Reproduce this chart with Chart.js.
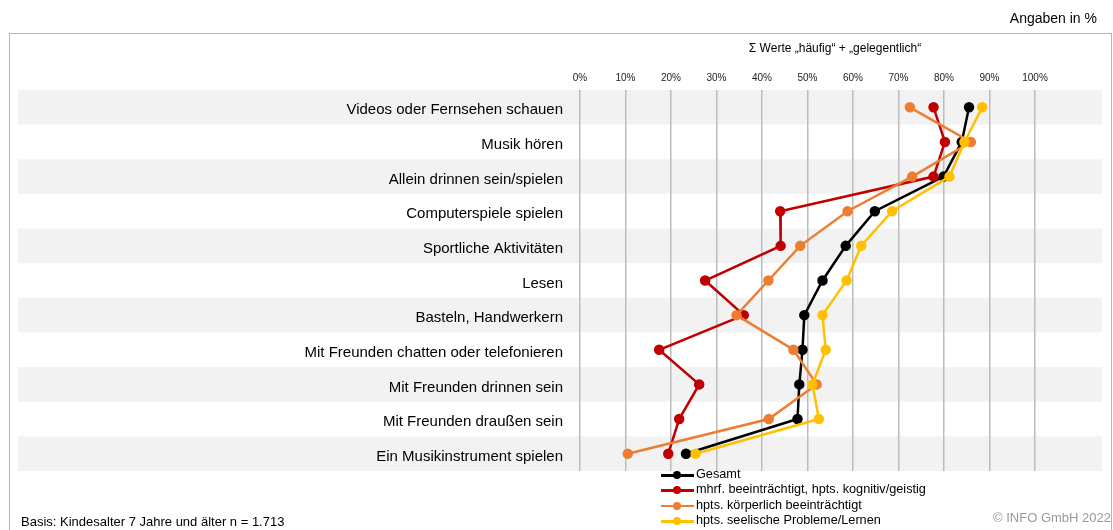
<!DOCTYPE html>
<html lang="de">
<head>
<meta charset="utf-8">
<script src="https://cdn.jsdelivr.net/npm/chart.js@4/dist/chart.umd.min.js"></script>
<style>
    html, body { margin: 0; padding: 0; background: #fff; }
    body { font-family: Arial, "Liberation Sans", sans-serif; color: #000; }
    #wrap { position: relative; width: 1113px; height: 530px; overflow: hidden; }
    #frame { position: absolute; left: 9px; top: 33px; width: 1101px; height: 520px; border: 1.5px solid #b4b4b4; border-bottom: none; }
    #chartBox { position: absolute; left: 0; top: 0; width: 1113px; height: 530px; }
    .txt { position: absolute; white-space: nowrap; }
    #unit { right: 16px; top: 10px; font-size: 14px; }
    #subtitle { left: 835px; top: 41px; transform: translateX(-50%); font-size: 12px; }
    #basis { left: 21px; top: 514px; font-size: 13px; }
    #copy { right: 2px; top: 510px; font-size: 13px; color: #9a9a9a; }
    #legend { position: absolute; left: 661px; top: 467px; font-size: 12.7px; line-height: 15.3px; }
    #legend .item { display: flex; align-items: center; }
    #legend .sym { position: relative; width: 33px; height: 15px; margin-right: 2px; }
    #legend .sym i { position: absolute; left: 0; right: 0; top: 7px; height: 2.5px; }
    #legend .sym b { position: absolute; left: 12px; top: 4px; width: 8px; height: 8px; border-radius: 50%; }
</style>
</head>
<body>
<div id="wrap">
    <div id="frame"></div>
    <div id="chartBox"><canvas id="activityChart" width="1113" height="530"></canvas></div>
    <div class="txt" id="unit">Angaben in %</div>
    <div class="txt" id="subtitle">Σ Werte „häufig“ + „gelegentlich“</div>
    <div id="legend"></div>
    <div class="txt" id="basis">Basis: Kindesalter 7 Jahre und älter n = 1.713</div>
    <div class="txt" id="copy">© INFO GmbH 2022</div>
</div>
<script>
const activities = [
    "Videos oder Fernsehen schauen",
    "Musik hören",
    "Allein drinnen sein/spielen",
    "Computerspiele spielen",
    "Sportliche Aktivitäten",
    "Lesen",
    "Basteln, Handwerkern",
    "Mit Freunden chatten oder telefonieren",
    "Mit Freunden drinnen sein",
    "Mit Freunden draußen sein",
    "Ein Musikinstrument spielen"
];

const seriesNames = [
    "Gesamt",
    "mhrf. beeinträchtigt, hpts. kognitiv/geistig",
    "hpts. körperlich beeinträchtigt",
    "hpts. seelische Probleme/Lernen"
];

const gesamt      = [85.5, 83.9, 79.9, 64.8, 58.4, 53.3, 49.3, 48.9, 48.2, 47.8, 23.3];
const kognitiv    = [77.7, 80.2, 77.7, 44.0, 44.1, 27.5, 36.0, 17.4, 26.2, 21.8, 19.4];
const koerperlich = [72.5, 85.9, 73.0, 58.8, 48.4, 41.4, 34.4, 46.9, 52.0, 41.5, 10.5];
const seelisch    = [88.4, 84.5, 81.2, 68.6, 61.8, 58.6, 53.3, 54.0, 51.1, 52.5, 25.4];

const xTicks = [0, 10, 20, 30, 40, 50, 60, 70, 80, 90, 100];

const colors = ["#000000", "#c00000", "#ed7d31", "#ffc000"];
const FONT = "Arial, 'Liberation Sans', sans-serif";

// grey stripes behind every other row, wider than the plot area
const rowBands = {
    id: "rowBands",
    beforeDraw(chart) {
        const { ctx, scales: { y } } = chart;
        const half = (y.bottom - y.top) / activities.length / 2;
        ctx.save();
        ctx.fillStyle = "#f2f2f2";
        activities.forEach((a, i) => {
            if (i % 2 !== 0) return;
            const cy = y.getPixelForValue(i);
            ctx.fillRect(18, cy - half, 1102 - 18, half * 2);
        });
        ctx.restore();
    }
};

function makeDataset(i, values) {
    return {
        label: seriesNames[i],
        data: values,
        borderColor: colors[i],
        backgroundColor: colors[i],
        pointBackgroundColor: colors[i],
        pointBorderColor: colors[i],
        borderWidth: 2.5,
        pointRadius: 4,
        pointHoverRadius: 4,
        tension: 0,
        clip: false,
        order: 4 - i
    };
}

const datasets = [gesamt, kognitiv, koerperlich, seelisch].map((v, i) => makeDataset(i, v));

new Chart(document.getElementById("activityChart"), {
    type: "line",
    data: { labels: activities, datasets: datasets },
    options: {
        indexAxis: "y",
        responsive: false,
        animation: false,
        layout: { padding: { left: 0, top: 60, right: 78, bottom: 59 } },
        plugins: {
            legend: { display: false },
            tooltip: { enabled: false }
        },
        scales: {
            x: {
                type: "linear",
                position: "top",
                min: 0,
                max: 100,
                afterBuildTicks: s => { s.ticks = xTicks.map(v => ({ value: v })); },
                afterFit: s => { s.height = 30; },
                ticks: {
                    callback: v => v + "%",
                    color: "#222",
                    font: { family: FONT, size: 10 },
                    padding: 6,
                    maxRotation: 0
                },
                grid: { color: "#bcbcbc", lineWidth: 1.5, drawTicks: false },
                border: { display: false }
            },
            y: {
                type: "category",
                offset: true,
                afterFit: s => { s.width = 580; },
                ticks: {
                    color: "#000",
                    font: { family: FONT, size: 15 },
                    padding: 17,
                    labelOffset: 3
                },
                grid: { display: false, drawTicks: false },
                border: { display: false }
            }
        }
    },
    plugins: [rowBands]
});

// legend entries: line with a dot, built from the datasets
const legendEl = document.getElementById("legend");
datasets.forEach(ds => {
    const item = document.createElement("div");
    item.className = "item";
    item.innerHTML = '<span class="sym"><i style="background:' + ds.borderColor + '"></i><b style="background:' + ds.borderColor + '"></b></span><span>' + ds.label + '</span>';
    legendEl.appendChild(item);
});
</script>
</body>
</html>
